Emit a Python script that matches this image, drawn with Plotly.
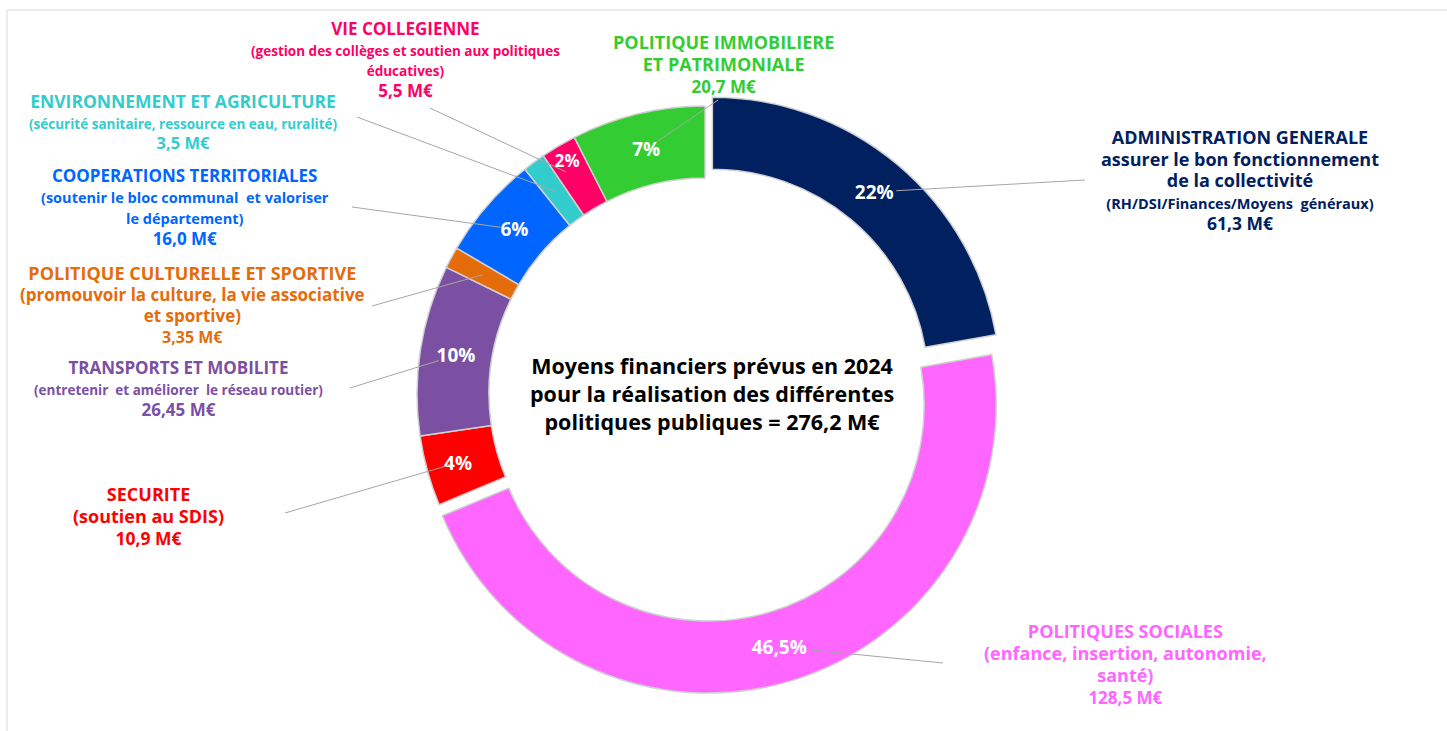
import math
import plotly.graph_objects as go

# Données : moyens financiers prévus en 2024 (M€), dans l'ordre du graphique (sens horaire depuis midi)
categories = [
    "ADMINISTRATION GENERALE",
    "POLITIQUES SOCIALES",
    "SECURITE",
    "TRANSPORTS ET MOBILITE",
    "POLITIQUE CULTURELLE ET SPORTIVE",
    "COOPERATIONS TERRITORIALES",
    "ENVIRONNEMENT ET AGRICULTURE",
    "VIE COLLEGIENNE",
    "POLITIQUE IMMOBILIERE ET PATRIMONIALE",
]
montants = [61.3, 128.5, 10.9, 26.45, 3.35, 16.0, 3.5, 5.5, 20.7]
montant_labels = ["61,3 M€", "128,5 M€", "10,9 M€", "26,45 M€", "3,35 M€",
                  "16,0 M€", "3,5 M€", "5,5 M€", "20,7 M€"]
pct_labels = ["22%", "46,5%", "4%", "10%", "", "6%", "", "2%", "7%"]

# lignes de texte des étiquettes (titre + description)
label_lines = [
    ["ADMINISTRATION GENERALE", "assurer le bon fonctionnement", "de la collectivité",
     "(RH/DSI/Finances/Moyens  généraux)"],
    ["POLITIQUES SOCIALES", "(enfance, insertion, autonomie,", "santé)"],
    ["SECURITE", "(soutien au SDIS)"],
    ["TRANSPORTS ET MOBILITE", "(entretenir  et améliorer  le réseau routier)"],
    ["POLITIQUE CULTURELLE ET SPORTIVE", "(promouvoir la culture, la vie associative", "et sportive)"],
    ["COOPERATIONS TERRITORIALES", "(soutenir le bloc communal  et valoriser", "le département)"],
    ["ENVIRONNEMENT ET AGRICULTURE", "(sécurité sanitaire, ressource en eau, ruralité)"],
    ["VIE COLLEGIENNE", "(gestion des collèges et soutien aux politiques", "éducatives)"],
    ["POLITIQUE IMMOBILIERE", "ET PATRIMONIALE"],
]

colors = ["#002060", "#ff66ff", "#ff0000", "#7b4fa2", "#e46c0a",
          "#0066ff", "#33cccc", "#ff0066", "#33cc33"]
pulls = [0.04, 0.04, 0, 0, 0, 0, 0, 0, 0]

W, H = 1447, 731
CX, CY, R = 705, 394, 288
HOLE = 0.75
FONT = "Open Sans"

# mise en page des étiquettes : centre x, y première / dernière ligne, tailles par ligne
label_pos = [
    (1240, 137, 223, [18, 18, 18, 14.5, 17.5]),
    (1125, 631, 697, [18, 18, 18, 17]),
    (148, 494, 538, [18, 18, 17.5]),
    (178, 367, 409, [17, 13.5, 17]),
    (193, 273, 336, [18, 17, 17, 16]),
    (185, 176, 239, [17, 14.5, 14.5, 17]),
    (183, 101, 142, [17.5, 13.5, 16.5]),
    (405, 28, 90, [17, 13.5, 13.5, 17]),
    (723, 42, 86, [18, 18, 17]),
]
# point de départ des traits de rappel côté étiquette
leader_start = [(1085, 180), (943, 663), (285, 513), (350, 388), (372, 306),
                (352, 207), (357, 117), (430, 108), (718, 100)]
leader_gap = [22, 32, 14, 18, 0, 14, 0, 12, 14]


def px(x, y):
    return x / W, 1 - y / H


total = sum(montants)
half = R * (1 + max(pulls))

fig = go.Figure(go.Pie(
    labels=categories,
    values=montants,
    text=pct_labels,
    textinfo="text",
    textposition="inside",
    insidetextorientation="horizontal",
    textfont=dict(family=FONT, size=19, color="white", weight="bold"),
    marker=dict(colors=colors, line=dict(color="#d0d0d0", width=1.5)),
    hole=HOLE,
    pull=pulls,
    sort=False,
    direction="clockwise",
    rotation=0,
    showlegend=False,
    hoverinfo="label+value",
    domain=dict(x=[(CX - half) / W, (CX + half) / W],
                y=[1 - (CY + half) / H, 1 - (CY - half) / H]),
))

annotations = []
shapes = []
cum = 0
for i, v in enumerate(montants):
    theta = math.radians((cum + v / 2) / total * 360)
    cum += v
    # point au milieu de l'anneau, décalé si la part est extraite
    rr = R * (1 + HOLE) / 2 + R * pulls[i]
    ex = CX + rr * math.sin(theta)
    ey = CY - rr * math.cos(theta)
    sx, sy = leader_start[i]
    d = math.hypot(sx - ex, sy - ey)
    g = leader_gap[i]
    ex += (sx - ex) * g / d
    ey += (sy - ey) * g / d
    x0, y0 = px(sx, sy)
    x1, y1 = px(ex, ey)
    shapes.append(dict(type="line", xref="paper", yref="paper", x0=x0, y0=y0, x1=x1, y1=y1,
                       line=dict(color="#a6a6a6", width=1)))

    lx, y_first, y_last, sizes = label_pos[i]
    lines = label_lines[i] + [montant_labels[i]]
    step = (y_last - y_first) / (len(lines) - 1)
    text = "<br>".join(f"<span style='font-size:{s}px'>{t}</span>" for t, s in zip(lines, sizes))
    xx, yy = px(lx, (y_first + y_last) / 2)
    annotations.append(dict(
        x=xx, y=yy, xref="paper", yref="paper", text=text, showarrow=False,
        xanchor="center", yanchor="middle", align="center",
        font=dict(family=FONT, size=step / 1.3, color=colors[i], weight="bold"),
    ))

centre = ("Moyens financiers prévus en 2024<br>pour la réalisation des différentes<br>"
          "politiques publiques = " + f"{total:.1f}".replace(".", ",") + " M€")
cx_p, cy_p = px(712, 393)
annotations.append(dict(x=cx_p, y=cy_p, xref="paper", yref="paper", text=centre,
                        showarrow=False, xanchor="center", yanchor="middle",
                        font=dict(family=FONT, size=21.5, color="black", weight="bold")))

# cadre du graphique
shapes.append(dict(type="rect", xref="paper", yref="paper",
                   x0=7 / W, x1=1.01, y0=-0.02, y1=1 - 10 / H,
                   line=dict(color="#d9d9d9", width=1), layer="below"))

fig.update_layout(
    width=W, height=H,
    margin=dict(l=0, r=0, t=0, b=0),
    paper_bgcolor="white",
    plot_bgcolor="white",
    annotations=annotations,
    shapes=shapes,
)

fig.write_html("out.html", config={"displayModeBar": False},
               post_script="document.body.style.margin = '0';")
